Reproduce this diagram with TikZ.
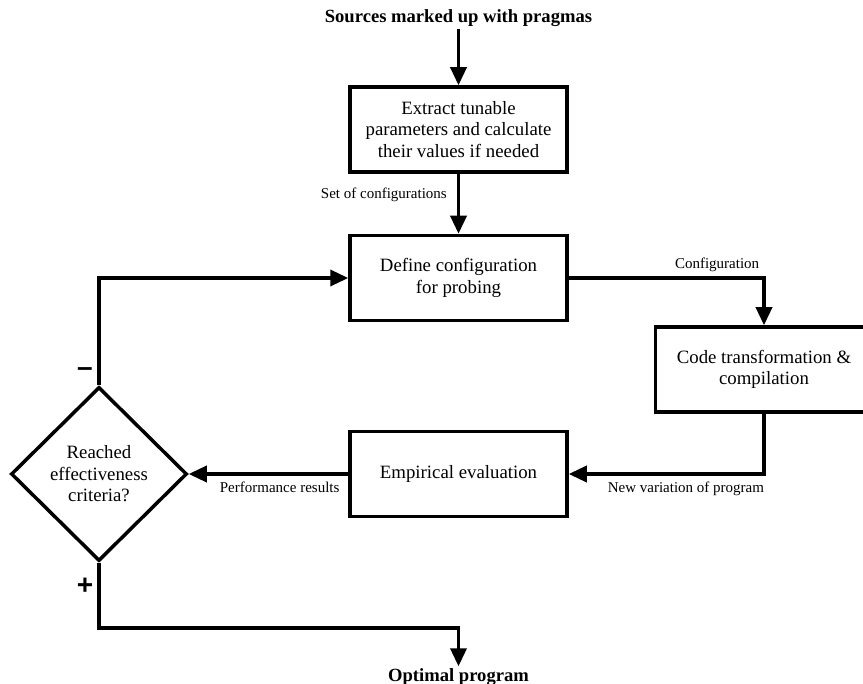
\documentclass[tikz,border=0pt]{standalone}
\usepackage{fontspec}
\setmainfont{Liberation Serif}
\newfontfamily\signfont{Liberation Sans}
\usetikzlibrary{arrows.meta,shapes.geometric}

\begin{document}
\begin{tikzpicture}[x=1pt,y=-1pt,
    flow/.style={line width=3.5pt,-{Triangle[length=18pt,width=16pt]}},
    stage/.style={draw,line width=3.5pt,minimum width=217pt,minimum height=85pt,
        align=center,font=\fontsize{18.8}{21.5}\selectfont,inner sep=2pt},
    check/.style={draw,diamond,line width=3.5pt,minimum width=176pt,minimum height=174pt,
        align=center,font=\fontsize{18.8}{21.5}\selectfont,inner sep=0pt},
    edgelabel/.style={font=\fontsize{15}{17}\selectfont,inner sep=2pt},
    endtext/.style={font=\bfseries\fontsize{18.6}{21.5}\selectfont,inner sep=2pt},
    sign/.style={font=\signfont\bfseries\fontsize{28}{30}\selectfont}]
    \useasboundingbox (0,0) rectangle (863,684);

    % Stages of the loop
    \node[endtext] (src) at (458.5,18) {Sources marked up with pragmas};
    \node[stage] (extract) at (458.5,129.5) {Extract tunable\\parameters and calculate\\their values if needed};
    \node[stage] (define) at (458.5,278) {Define configuration\\for probing};
    \node[stage] (code) at (764,369.5) {Code transformation \&\\compilation};
    \node[stage] (empirical) at (458.5,474) {Empirical evaluation};
    \node[check] (reached) at (99,474) {Reached\\effectiveness\\criteria?};
    \node[endtext] (optimal) at (458.5,677) {Optimal program};
    \coordinate (plusturn) at (458.5,628);

    % Connectors
    \draw[flow] (src) -- (extract);
    \draw[flow] (extract) -- (define)
        node[edgelabel,pos=0.35,left=8pt] {Set of configurations};
    \draw[flow] (define.east) -| (code.north)
        node[edgelabel,pos=0.38,above=3pt] {Configuration};
    \draw[flow] (code.south) |- (empirical.east)
        node[edgelabel,pos=0.70,below=4pt] {New variation of program};
    \draw[flow] (empirical.west) -- (reached.east)
        node[edgelabel,pos=0.43,below=4pt] {Performance results};
    \draw[flow] (reached.north) |- (define.west);
    \draw[flow] (reached.south) |- (plusturn) -- (optimal.north);

    % Branch signs
    \node[sign] (minus) at (85,372) {\textendash};
    \node[sign] (plus) at (85,586) {+};

\end{tikzpicture}
\end{document}
